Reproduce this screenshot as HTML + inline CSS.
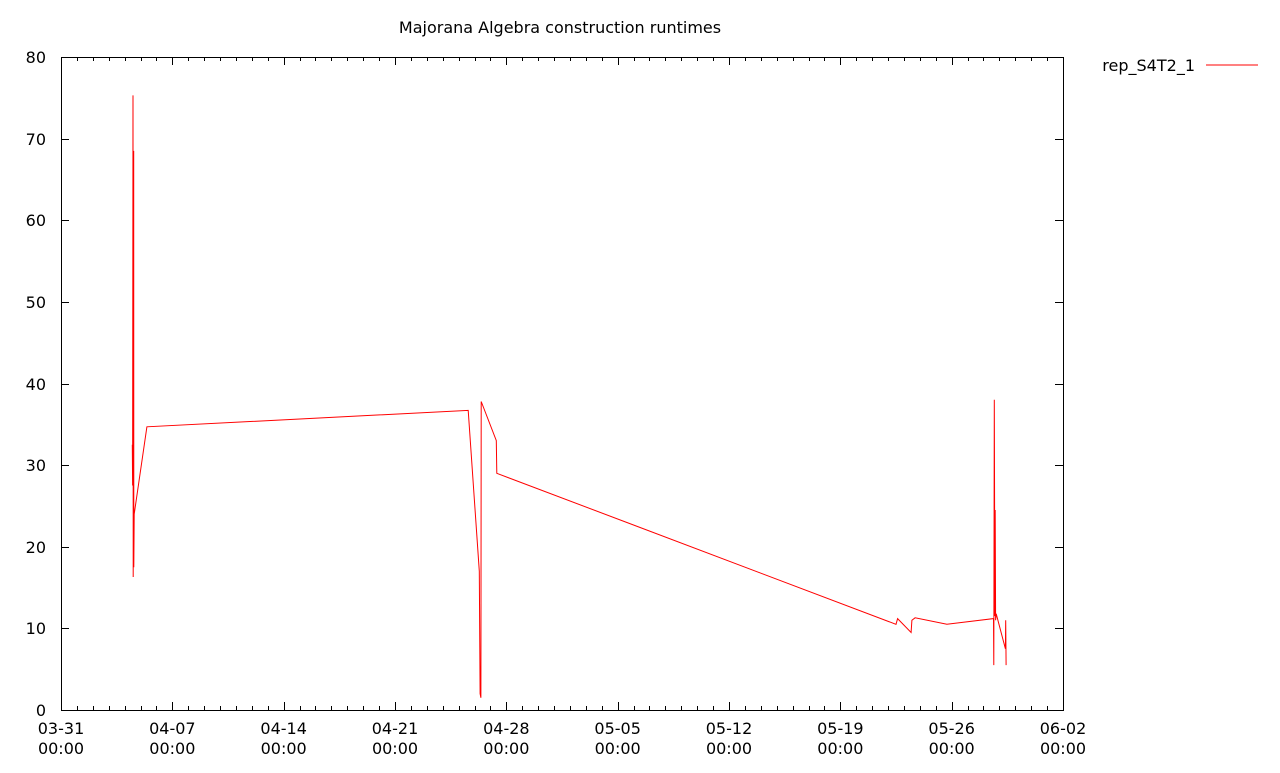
<!DOCTYPE html>
<html><head><meta charset="utf-8"><style>
body{margin:0;background:#fff;}
svg text{font-family:"DejaVu Sans","Liberation Sans",sans-serif;font-size:16px;fill:#000;}
</style></head><body>
<svg id="chart" width="1280" height="768" xmlns="http://www.w3.org/2000/svg">
<rect x="0" y="0" width="1280" height="768" fill="#fff"/>
<text x="560" y="33" text-anchor="middle">Majorana Algebra construction runtimes</text>
<g id="axes"></g>
<polyline id="series" fill="none" stroke="#ff0000" stroke-width="1"/>
<g>
<text x="1195" y="71" text-anchor="end">rep_S4T2_1</text>
<line x1="1206" y1="65" x2="1258" y2="65" stroke="#ff0000" stroke-width="1"/>
</g>
</svg>
<script>
const xDays = [4.48,4.50,4.53,4.54,4.57,4.58,4.60,5.40,25.6,26.3,26.35,26.4,26.42,27.37,27.4,52.5,52.6,53.45,53.5,53.7,55.7,58.63,58.65,58.68,58.72,58.74,58.76,58.8,59.38,59.4,59.42];
const yVals = [32.5,27.5,75.3,16.3,68.5,17.5,24,34.7,36.7,17,2,1.5,37.8,33,29,10.5,11.2,9.5,11,11.3,10.5,11.2,5.5,38,11.5,24.5,11,11.8,7.5,11,5.5];
const yTicks = [0,10,20,30,40,50,60,70,80];
const xTickLabels = ["03-31","04-07","04-14","04-21","04-28","05-05","05-12","05-19","05-26","06-02"];

const L=61,R=1063,T=57,B=710,DAYS=63,YMAX=80;
const sx=d=>L+d*(R-L)/DAYS;
const sy=v=>B-v*(B-T)/YMAX;
const NS="http://www.w3.org/2000/svg";
const ax=document.getElementById('axes');
function mk(tag,attrs,parent){const e=document.createElementNS(NS,tag);for(const k in attrs)e.setAttribute(k,attrs[k]);(parent||ax).appendChild(e);return e;}
const frame=mk('rect',{x:L+0.5,y:T+0.5,width:R-L,height:B-T,fill:'none',stroke:'#000','stroke-width':1});


yTicks.forEach(v=>{
  const y=Math.round(sy(v))+0.5;
  mk('line',{x1:L,y1:y,x2:L+8,y2:y,stroke:'#000'});
  mk('line',{x1:R-8,y1:y,x2:R,y2:y,stroke:'#000'});
  const t=mk('text',{x:46,y:y+5.5,'text-anchor':'end','font-size':'15'});
  t.textContent=v;
  
  
});
for(let d=0;d<=DAYS;d++){
  const x=Math.round(sx(d))+0.5;
  const len=(d%7===0)?8:4;
  mk('line',{x1:x,y1:B,x2:x,y2:B-len,stroke:'#000'});
  mk('line',{x1:x,y1:T,x2:x,y2:T+len,stroke:'#000'});
}
xTickLabels.forEach((lab,i)=>{
  const x=sx(i*7);
  const t=mk('text',{x:x,y:734,'text-anchor':'middle'});
  t.textContent=lab;
  
  
  const t2=mk('text',{x:x,y:754,'text-anchor':'middle'});
  t2.textContent='00:00';
  
  
});
document.getElementById('series').setAttribute('points',xDays.map((d,i)=>sx(d).toFixed(1)+','+sy(yVals[i]).toFixed(1)).join(' '));
</script>
</body></html>
